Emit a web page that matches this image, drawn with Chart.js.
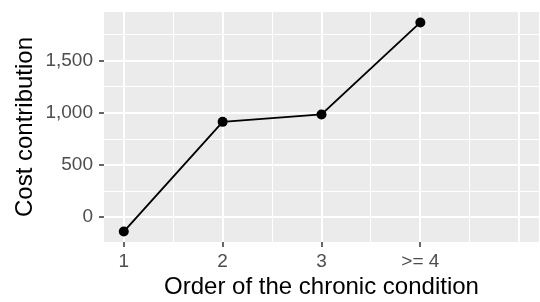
<!DOCTYPE html>
<html>
<head>
<meta charset="utf-8">
<script src="https://cdn.jsdelivr.net/npm/chart.js@4/dist/chart.umd.min.js"></script>
<style>
  html, body { margin: 0; padding: 0; background: #fff; }
  #wrap { width: 540px; height: 302px; }
</style>
</head>
<body>
<div id="wrap"><canvas id="costChart" width="540" height="302"></canvas></div>
<script>
// Data
const xPositions = [1, 2, 3, 4];
const costValues = [-138, 915, 986, 1869];

// Axis breaks (major + minor) and labels
const xBreaks = [1, 1.5, 2, 2.5, 3, 3.5, 4, 4.5, 5];
const xTickLabels = { 1: '1', 2: '2', 3: '3', 4: '>= 4', 5: '' };
const yBreaks = [0, 250, 500, 750, 1000, 1250, 1500, 1750];
const yMajor = [0, 500, 1000, 1500];

const xRange = [0.8, 5.2];
const yRange = [-238, 1969];

const TICK_FONT = { family: 'Liberation Sans, Arial, sans-serif', size: 19 };
const TITLE_FONT = { family: 'Liberation Sans, Arial, sans-serif', size: 24 };

// grey panel behind the grid (ggplot look)
const panelBg = {
    id: 'panelBg',
    beforeDraw(chart) {
        const { ctx, chartArea: a } = chart;
        ctx.save();
        ctx.fillStyle = '#EBEBEB';
        ctx.fillRect(a.left, a.top, a.right - a.left, a.bottom - a.top);
        ctx.restore();
    }
};

const isMajorX = v => Number.isInteger(v);
const hasTickX = v => isMajorX(v) && xTickLabels[v] !== '';
const isMajorY = v => yMajor.includes(v);

// keep the panel exactly where the reference has it
function noPad(scale) {
    scale.paddingTop = 0;
    scale.paddingBottom = 0;
    scale.paddingLeft = 0;
    scale.paddingRight = 0;
}

new Chart(document.getElementById('costChart'), {
    type: 'line',
    data: {
        datasets: [{
            data: xPositions.map((x, i) => ({ x: x, y: costValues[i] })),
            borderColor: '#000',
            backgroundColor: '#000',
            borderWidth: 1.9,
            pointRadius: 5,
            pointBorderWidth: 0,
            tension: 0
        }]
    },
    options: {
        responsive: false,
        animation: false,
        layout: { autoPadding: false, padding: { left: 0, right: 1, top: 12, bottom: 0 } },
        plugins: { legend: { display: false }, tooltip: { enabled: false } },
        scales: {
            x: {
                type: 'linear',
                min: xRange[0],
                max: xRange[1],
                afterBuildTicks: axis => { axis.ticks = xBreaks.map(v => ({ value: v })); },
                afterFit: scale => { scale.height = 60; noPad(scale); },
                border: { display: false },
                grid: {
                    color: '#FFFFFF',
                    lineWidth: ctx => isMajorX(ctx.tick.value) ? 2 : 1,
                    drawTicks: true,
                    tickLength: 5,
                    tickColor: ctx => hasTickX(ctx.tick.value) ? '#333333' : 'rgba(0,0,0,0)',
                    tickWidth: 1.5
                },
                ticks: {
                    autoSkip: false,
                    maxRotation: 0,
                    padding: 3,
                    color: '#4D4D4D',
                    font: TICK_FONT,
                    callback: v => isMajorX(v) ? xTickLabels[v] : ''
                },
                title: {
                    display: true,
                    text: 'Order of the chronic condition',
                    color: '#000',
                    font: TITLE_FONT,
                    padding: { top: 0, bottom: 0 }
                }
            },
            y: {
                min: yRange[0],
                max: yRange[1],
                afterBuildTicks: axis => { axis.ticks = yBreaks.map(v => ({ value: v })); },
                afterFit: scale => { scale.width = 104; noPad(scale); },
                border: { display: false },
                grid: {
                    color: '#FFFFFF',
                    lineWidth: ctx => isMajorY(ctx.tick.value) ? 2 : 1,
                    drawTicks: true,
                    tickLength: 5,
                    tickColor: ctx => isMajorY(ctx.tick.value) ? '#333333' : 'rgba(0,0,0,0)',
                    tickWidth: 1.5
                },
                ticks: {
                    autoSkip: false,
                    padding: 6,
                    color: '#4D4D4D',
                    font: TICK_FONT,
                    callback: v => isMajorY(v) ? v.toLocaleString('en-US') : ''
                },
                title: {
                    display: true,
                    text: 'Cost contribution',
                    color: '#000',
                    font: TITLE_FONT,
                    padding: { top: 11, bottom: 0 }
                }
            }
        }
    },
    plugins: [panelBg]
});
</script>
</body>
</html>
